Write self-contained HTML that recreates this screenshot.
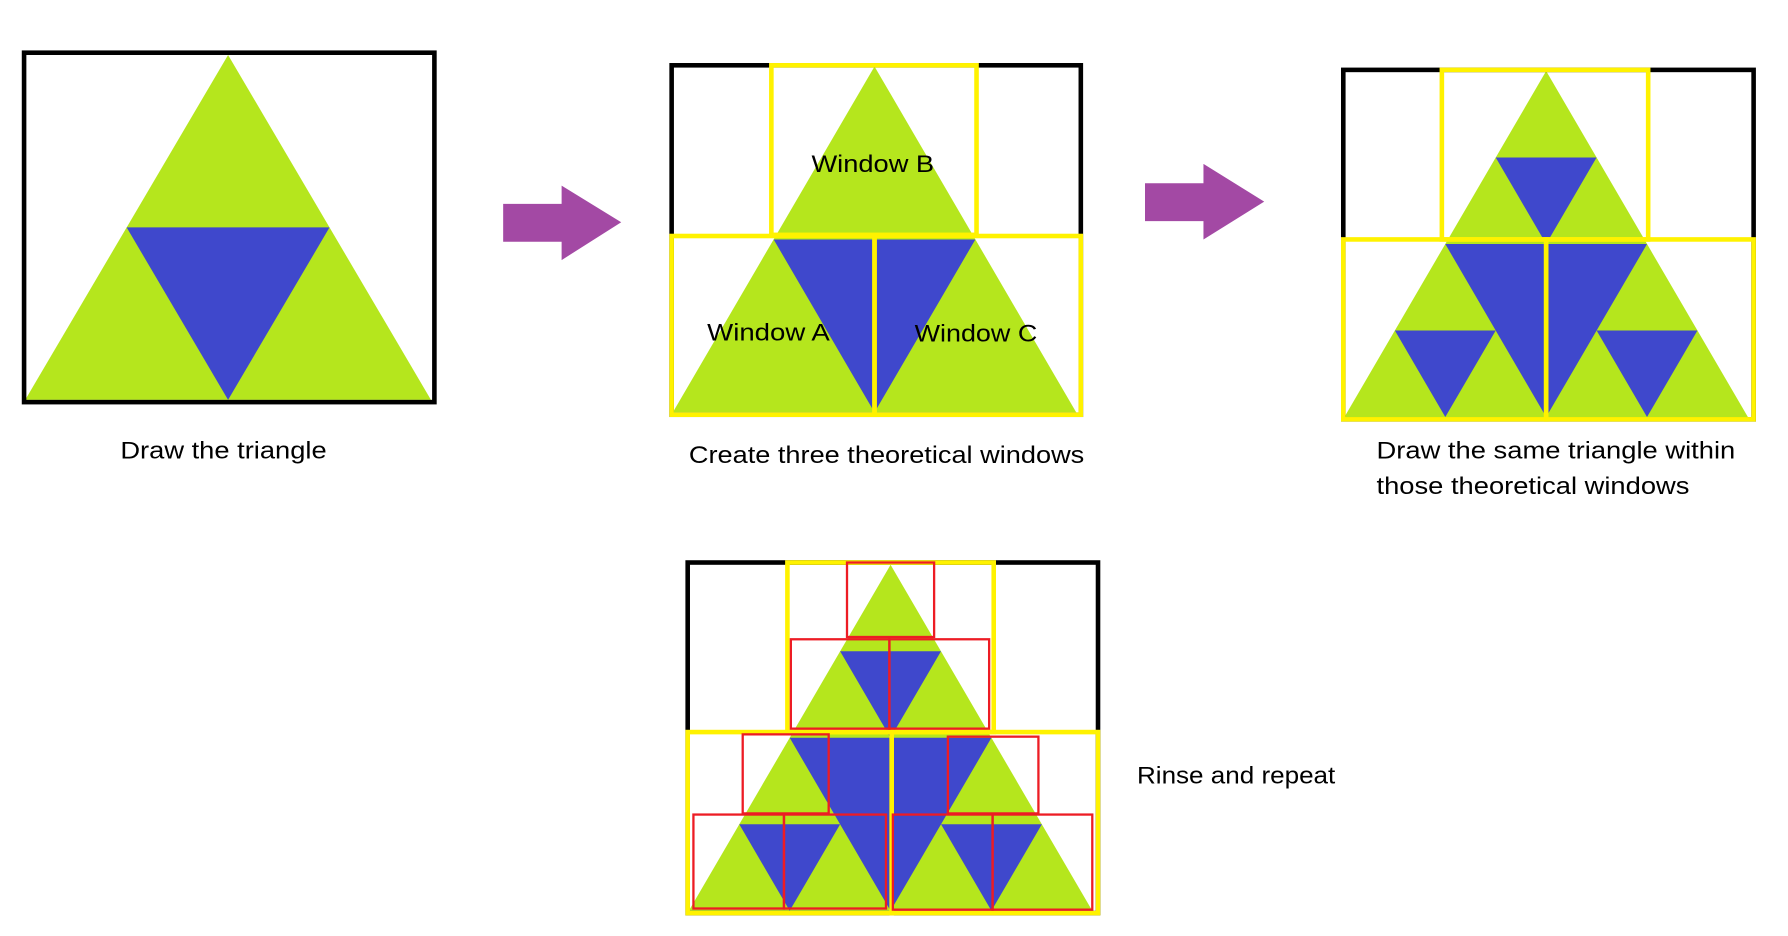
<!DOCTYPE html>
<html><head><meta charset="utf-8"><style>
html,body{margin:0;padding:0;background:#fff;}
svg{display:block;}
text{font-family:"Liberation Sans",sans-serif;fill:#000;}
</style></head><body>
<svg id="s" width="1788" height="936" viewBox="0 0 1560 817" preserveAspectRatio="none" xmlns="http://www.w3.org/2000/svg">
<g id="tri"></g>
<g id="frames" fill="none">
 <rect x="21" y="46" width="358" height="305" stroke="#000" stroke-width="4"/>
 <rect x="586" y="57" width="357" height="305" stroke="#000" stroke-width="4"/>
 <rect x="1172" y="61" width="358" height="305" stroke="#000" stroke-width="4"/>
 <rect x="600" y="491" width="358" height="306" stroke="#000" stroke-width="4"/>
 <g stroke="#fff200" stroke-width="4">
  <rect x="673" y="57" width="179" height="148"/>
  <rect x="586" y="206" width="177" height="156"/>
  <rect x="763" y="206" width="180" height="156"/>
  <rect x="1258" y="61" width="180" height="148"/>
  <rect x="1172" y="209" width="177" height="157"/>
  <rect x="1349" y="209" width="181" height="157"/>
  <rect x="687" y="491" width="180" height="148"/>
  <rect x="600" y="639" width="178" height="158"/>
  <rect x="778" y="639" width="180" height="158"/>
 </g>
 <g stroke="#ed1c24" stroke-width="2">
  <rect x="739" y="491" width="76" height="65"/>
  <rect x="690" y="558" width="86" height="78"/>
  <rect x="776" y="558" width="87" height="78"/>
  <rect x="648" y="641" width="75" height="69"/>
  <rect x="827" y="643" width="79" height="67"/>
  <rect x="605" y="711" width="79" height="82"/>
  <rect x="684" y="711" width="89" height="82"/>
  <rect x="779" y="711" width="87" height="83"/>
  <rect x="866" y="711" width="87" height="83"/>
 </g>
</g>
<g fill="#a349a4">
 <polygon points="439,178 490,178 490,162 542,194 490,227 490,211 439,211"/>
 <polygon points="999,160 1050,160 1050,143 1103,176 1050,209 1050,193 999,193"/>
</g>
<g font-size="21" lengthAdjust="spacingAndGlyphs">
 <text x="708" y="150" textLength="107" lengthAdjust="spacingAndGlyphs">Window B</text>
 <text x="617" y="297" textLength="107" lengthAdjust="spacingAndGlyphs">Window A</text>
 <text x="798" y="298" textLength="107" lengthAdjust="spacingAndGlyphs">Window C</text>
 <text x="105" y="400" textLength="180" lengthAdjust="spacingAndGlyphs">Draw the triangle</text>
 <text x="601" y="404" textLength="345" lengthAdjust="spacingAndGlyphs">Create three theoretical windows</text>
 <text x="1201" y="400" textLength="313" lengthAdjust="spacingAndGlyphs">Draw the same triangle within</text>
 <text x="1201" y="431" textLength="273" lengthAdjust="spacingAndGlyphs">those theoretical windows</text>
 <text x="992" y="684" textLength="173" lengthAdjust="spacingAndGlyphs">Rinse and repeat</text>
</g>
</svg>
<script>
// triangles: apex x, apex y, half-width, height, depth
const panelApexX=[199,763,1349,777];
const panelApexY=[48,58,62,493];
const panelHalfW=[177,176,176,176];
const panelHeight=[301,302,302,302];
const panelDepth=[1,1,2,2];
const g=document.getElementById('tri');
const NS='http://www.w3.org/2000/svg';
function poly(pts,fill,name){
  const p=document.createElementNS(NS,'polygon');
  p.setAttribute('points',pts.map(a=>a.join(',')).join(' '));
  p.setAttribute('fill',fill);
  
  
  g.appendChild(p);
}
function inner(ax,ay,hw,h,d){
  if(d<=0)return;
  poly([[ax-hw/2,ay+h/2],[ax+hw/2,ay+h/2],[ax,ay+h]],'#3f48cc','blue-triangle');
  inner(ax,ay,hw/2,h/2,d-1);
  inner(ax-hw/2,ay+h/2,hw/2,h/2,d-1);
  inner(ax+hw/2,ay+h/2,hw/2,h/2,d-1);
}
for(let i=0;i<panelApexX.length;i++){
  const ax=panelApexX[i],ay=panelApexY[i],hw=panelHalfW[i],h=panelHeight[i];
  poly([[ax,ay],[ax-hw,ay+h],[ax+hw,ay+h]],'#b5e61d','green-triangle');
  inner(ax,ay,hw,h,panelDepth[i]);
}
</script>
</body></html>
